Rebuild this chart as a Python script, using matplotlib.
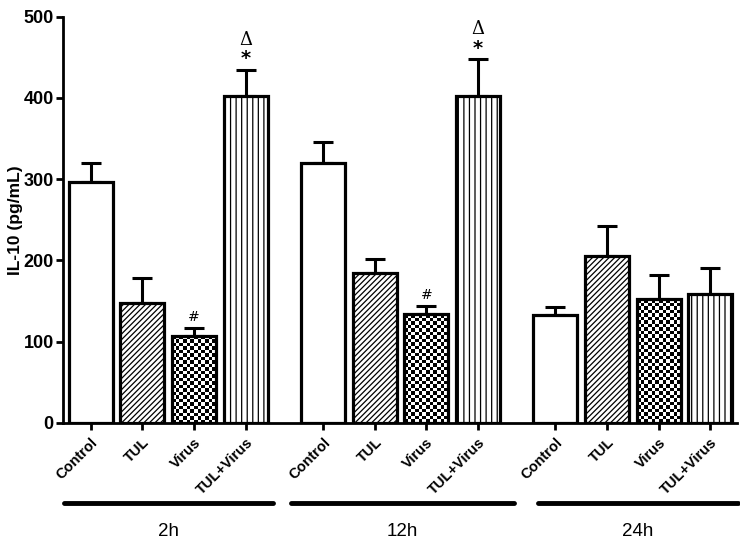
import numpy as np
import matplotlib.pyplot as plt

groups = ["2h", "12h", "24h"]
treatments = ["Control", "TUL", "Virus", "TUL+Virus"]

# mean and upper error (SEM) per group, order = treatments
mean_2h = [296, 148, 107, 402]
err_2h = [24, 30, 10, 33]
mean_12h = [320, 184, 134, 402]
err_12h = [26, 18, 10, 46]
mean_24h = [133, 205, 152, 158]
err_24h = [9, 37, 30, 33]

# significance marks above the bars
marks_2h = ["", "", "#", "*"]
marks_12h = ["", "", "#", "*"]
marks_24h = ["", "", "", ""]
delta_2h = [False, False, False, True]
delta_12h = [False, False, False, True]
delta_24h = [False, False, False, False]

means = [mean_2h, mean_12h, mean_24h]
errs = [err_2h, err_12h, err_24h]
marks = [marks_2h, marks_12h, marks_24h]
deltas = [delta_2h, delta_12h, delta_24h]

hatches = ["", "//////", None, "|||"]   # None -> checkerboard
width = 0.85

# underline extents for each time group (x data units)
line_start = [-0.52, 3.88, 8.66]
line_end = [3.53, 8.19, 12.54]

plt.rcParams["font.family"] = ["Liberation Sans", "DejaVu Sans"]
plt.rcParams["hatch.linewidth"] = 0.9
fig = plt.figure(figsize=(7.4, 5.4), dpi=100)
ax = fig.add_axes([0.085, 0.217, 0.911, 0.752])

xticks = []
xlabels = []
for gi, g in enumerate(groups):
    start = gi * 4.5
    for ti, t in enumerate(treatments):
        x = start + ti
        m = means[gi][ti]
        e = errs[gi][ti]
        xticks.append(x)
        xlabels.append(t)
        ax.errorbar(x, m, yerr=[[0], [e]], fmt="none", ecolor="black",
                    elinewidth=2.2, capsize=7, capthick=2.2, zorder=1)
        if hatches[ti] is None:
            bar = ax.bar(x, m, width, color="white", edgecolor="none", zorder=2)[0]
            nx = 12
            ny = max(1, int(round(m / 4.3)))
            arr = np.add.outer(np.arange(ny), np.arange(nx)) % 2
            im = ax.imshow(arr, cmap="gray", extent=(x - width / 2, x + width / 2, 0, m),
                           aspect="auto", interpolation="nearest", zorder=2.5)
            im.set_clip_path(bar)
            ax.bar(x, m, width, color="none", edgecolor="black", linewidth=2.3, zorder=3)
        else:
            ax.bar(x, m, width, color="white", edgecolor="black", hatch=hatches[ti],
                   linewidth=2.3, zorder=3)
        if marks[gi][ti]:
            star = marks[gi][ti] == "*"
            ax.annotate(marks[gi][ti], (x, m + e), xytext=(0, 1 if star else 3),
                        textcoords="offset points", ha="center", va="bottom",
                        fontsize=14 if star else 10,
                        fontweight="bold" if star else "normal",
                        family="DejaVu Sans")
        if deltas[gi][ti]:
            ax.annotate("Δ", (x, m + e), xytext=(0, 15), textcoords="offset points",
                        ha="center", va="bottom", fontsize=13, family="DejaVu Serif")

ax.set_xlim(-0.54, 12.52)
ax.set_ylim(0, 500)
ax.set_yticks([0, 100, 200, 300, 400, 500])
ax.set_xticks(xticks)
ax.set_xticklabels(xlabels, rotation=45, ha="right", va="top", rotation_mode="anchor",
                   fontsize=10.5, fontweight="bold")
for lab in ax.get_yticklabels():
    lab.set_fontweight("bold")
    lab.set_fontsize(13)
ax.tick_params(axis="both", direction="out", length=5, width=2)
ax.tick_params(axis="x", pad=4)
ax.tick_params(axis="y", pad=1.5)
ax.set_ylabel("IL-10 (pg/mL)", fontsize=12.5, fontweight="bold")
ax.yaxis.set_label_coords(-0.059, 0.5)

for s in ["top", "right"]:
    ax.spines[s].set_visible(False)
for s in ["left", "bottom"]:
    ax.spines[s].set_linewidth(2)

# group underlines and labels below the tick labels
tr = ax.get_xaxis_transform()
for gi, g in enumerate(groups):
    x0, x1 = line_start[gi], line_end[gi]
    ax.plot([x0, x1], [-0.197, -0.197], color="black", lw=3.5,
            transform=tr, clip_on=False, solid_capstyle="round")
    ax.text((x0 + x1) / 2, -0.268, g, transform=tr, ha="center", va="center",
            fontsize=13.5)

fig.savefig("out.png", dpi=100)
